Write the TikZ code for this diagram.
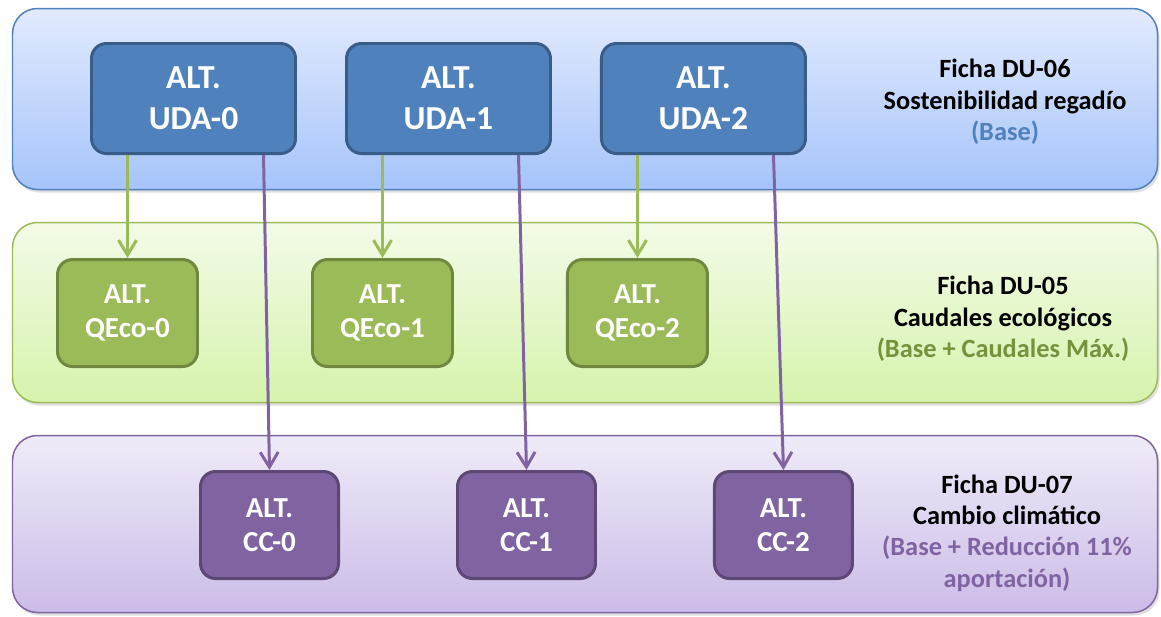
\documentclass[tikz,border=0pt]{standalone}
\usepackage{fontspec}
\setmainfont{Carlito}
\usepackage{tikz}
\usetikzlibrary{arrows.meta,positioning,shadows}
\definecolor{udaC}{RGB}{79,129,189}
\definecolor{qecoC}{RGB}{155,187,89}
\definecolor{qecoT}{RGB}{118,146,60}
\definecolor{ccC}{RGB}{128,100,162}
\definecolor{azulA}{RGB}{226,234,253}
\definecolor{azulB}{RGB}{165,196,250}
\definecolor{verdeA}{RGB}{243,251,232}
\definecolor{verdeB}{RGB}{214,243,172}
\definecolor{moradoA}{RGB}{240,235,248}
\definecolor{moradoB}{RGB}{203,188,232}
\tikzset{
  banda/.style={rectangle, rounded corners=0.5cm, line width=0.85pt, top color=#1A, bottom color=#1B,
                minimum width=22.9cm, drop shadow={opacity=0.25, shadow xshift=0.04cm, shadow yshift=-0.06cm}},
  caja/.style={rectangle, rounded corners=0.3cm, draw=#1!72!black, line width=1.7pt, fill=#1,
               text=white, align=center, font=\bfseries\fontsize{16.5}{19.5}\selectfont,
               minimum width=2.76cm, minimum height=2.14cm},
  ficha/.style={align=center, font=\bfseries\fontsize{15}{17.8}\selectfont},
  arr/.style={-{Straight Barb[length=0.3cm, width=0.36cm]}, line width=1.7pt, draw=#1},
}

\begin{document}
\begin{tikzpicture}
        \useasboundingbox (0,0) rectangle (23.22,-12.32);
        \node[banda=azul, draw=udaC, minimum height=3.62cm] (b06) at (11.7,-1.98) {};
        \node[banda=verde, draw=qecoC, minimum height=3.6cm] (b05) at (11.7,-6.25) {};
        \node[banda=morado, draw=ccC, minimum height=3.54cm] (b07) at (11.7,-10.48) {};
        \node[caja=udaC, minimum width=4.08cm, minimum height=2.2cm, font=\bfseries\fontsize{19.1}{23.2}\selectfont] (uda0) at (3.87,-1.97) {ALT.\\UDA-0};
        \node[caja=udaC, minimum width=4.08cm, minimum height=2.2cm, font=\bfseries\fontsize{19.1}{23.2}\selectfont, right=0.96cm of uda0] (uda1) {ALT.\\UDA-1};
        \node[caja=udaC, minimum width=4.08cm, minimum height=2.2cm, font=\bfseries\fontsize{19.1}{23.2}\selectfont, right=0.96cm of uda1] (uda2) {ALT.\\UDA-2};
        \node[caja=qecoC, minimum width=2.8cm] (qe0) at (2.55,-6.26) {ALT.\\QEco-0};
        \node[caja=qecoC, minimum width=2.8cm, right=2.24cm of qe0] (qe1) {ALT.\\QEco-1};
        \node[caja=qecoC, minimum width=2.8cm, right=2.24cm of qe1] (qe2) {ALT.\\QEco-2};
        \node[caja=ccC] (cc0) at (5.39,-10.5) {ALT.\\CC-0};
        \node[caja=ccC, right=2.32cm of cc0] (cc1) {ALT.\\CC-1};
        \node[caja=ccC, right=2.32cm of cc1] (cc2) {ALT.\\CC-2};
        \node[ficha] (t06) at (20.1,-2.04) {Ficha DU-06\\Sostenibilidad regadío\\\textcolor{udaC}{(Base)}};
        \node[ficha] (t05) at (20.06,-6.38) {Ficha DU-05\\Caudales ecológicos\\\textcolor{qecoT}{(Base + Caudales Máx.)}};
        \node[ficha] (t07) at (20.14,-10.66) {Ficha DU-07\\Cambio climático\\\textcolor{ccC}{(Base + Reducción 11\%}\\\textcolor{ccC}{aportación)}};
        \draw[arr=qecoC] (uda0.south -| qe0.north) -- (qe0.north);
        \draw[arr=qecoC] (uda1.south -| qe1.north) -- (qe1.north);
        \draw[arr=qecoC] (uda2.south -| qe2.north) -- (qe2.north);
        \draw[arr=ccC] ([xshift=1.4cm]uda0.south) -- (cc0.north);
        \draw[arr=ccC] ([xshift=1.4cm]uda1.south) -- (cc1.north);
        \draw[arr=ccC] ([xshift=1.4cm]uda2.south) -- (cc2.north);
      \end{tikzpicture}
\end{document}
